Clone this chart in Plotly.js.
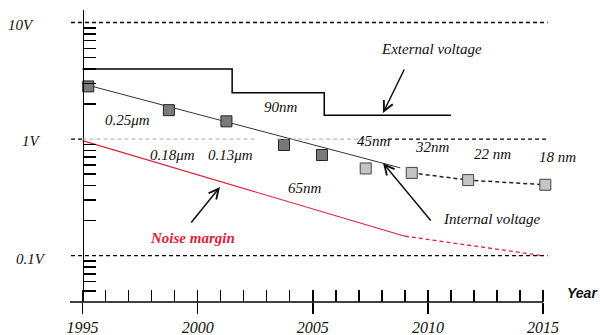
<!DOCTYPE html>
<html>
<head>
<meta charset="utf-8">
<script src="https://cdn.plot.ly/plotly-3.0.1.min.js"></script>
<style>html,body{margin:0;padding:0;background:#fff;}#chart{width:600px;height:335px;}</style>
</head>
<body>
<div id="chart"></div>
<script>
// ---- data ----
const extYears = [1995, 2001.5, 2005.5, 2011];
const extVolts = [4.0, 2.5, 1.6, 1.6];

const intYears = [1995.25, 1998.75, 2001.25, 2003.75, 2005.4];
const intVolts = [2.83, 1.77, 1.42, 0.89, 0.73];

const trendYears = [1995.25, 2008.8];
const trendVolts = [2.89, 0.567];

const projYears = [2007.3, 2009.3, 2011.75, 2015.1];
const projVolts = [0.56, 0.513, 0.445, 0.406];

const noiseYears = [1995, 2009, 2015];
const noiseVolts = [0.97, 0.147, 0.1];

const refLevels = [10, 1, 0.1];
const refLabels = ['10V', '1V', '0.1V'];

const majorYears = [1995, 2000, 2005, 2010, 2015];
const minorVolts = [0.05, 0.06, 0.07, 0.08, 0.09, 0.2, 0.3, 0.4, 0.5, 0.6, 0.7, 0.8, 0.9, 2, 3, 4, 5, 6, 7, 8, 9];

// ---- layout helpers ----
const W = 600, H = 335;
const M = {l: 70, r: 43, t: 10, b: 33};
const xRange = [1994.457, 2015.608];
const yRange = [-1.397, 1.107];
const pw = W - M.l - M.r, ph = H - M.t - M.b;
const px = x => (x - M.l) / pw;
const py = y => (H - M.b - y) / ph;
const xp = yr => (yr - xRange[0]) / (xRange[1] - xRange[0]);

const serif = 'Liberation Serif, Times New Roman, serif';
const red = '#e0203a';

const traces = [
  {x: extYears, y: extVolts, mode: 'lines', line: {color: '#000', width: 1.5, shape: 'hv'}, hoverinfo: 'skip'},
  {x: trendYears, y: trendVolts, mode: 'lines', line: {color: '#333', width: 1}, hoverinfo: 'skip'},
  {x: projYears.slice(1), y: projVolts.slice(1), mode: 'lines', line: {color: '#222', width: 1.5, dash: '4px,3px'}, hoverinfo: 'skip'},
  {x: noiseYears.slice(0, 2), y: noiseVolts.slice(0, 2), mode: 'lines', line: {color: red, width: 1.1}, hoverinfo: 'skip'},
  {x: noiseYears.slice(1), y: noiseVolts.slice(1), mode: 'lines', line: {color: red, width: 1.3, dash: '4px,3px'}, hoverinfo: 'skip'},
  {x: intYears, y: intVolts, mode: 'markers', cliponaxis: false,
   marker: {symbol: 'square', size: 11, color: '#7a7a7a', line: {color: '#222', width: 1}}, hoverinfo: 'skip'},
  {x: projYears, y: projVolts, mode: 'markers', cliponaxis: false,
   marker: {symbol: 'square', size: 11, color: '#c4c4c4', line: {color: '#444', width: 1}}, hoverinfo: 'skip'},
  {x: majorYears, y: majorYears.map(() => null), xaxis: 'x2', yaxis: 'y', mode: 'markers', hoverinfo: 'skip', showlegend: false}
];

const shapes = [];
refLevels.forEach((v, i) => {
  if (v === 1) {
    shapes.push({type: 'line', xref: 'x', yref: 'y', x0: 1994.5, x1: 1995, y0: v, y1: v, line: {color: '#000', width: 1.3, dash: '4px,3px'}});
    shapes.push({type: 'line', xref: 'x', yref: 'y', x0: 1995, x1: 2002.5, y0: v, y1: v, line: {color: '#aaa', width: 1, dash: '4px,3px'}});
    shapes.push({type: 'line', xref: 'x', yref: 'y', x0: 2003.45, x1: 2008.27, y0: v, y1: v, line: {color: '#aaa', width: 1, dash: '4px,3px'}});
    shapes.push({type: 'line', xref: 'x', yref: 'y', x0: 2008.27, x1: 2015.2, y0: v, y1: v, line: {color: '#000', width: 1.3, dash: '4px,3px'}});
  } else {
    shapes.push({type: 'line', xref: 'x', yref: 'y', x0: 1994.5, x1: 2015.2, y0: v, y1: v, line: {color: '#000', width: 1.3, dash: '4px,3px'}});
  }
});
// x axis line ending at 2015
shapes.push({type: 'line', xref: 'paper', yref: 'paper', x0: 0, x1: xp(2015), y0: 0, y1: 0, line: {color: '#000', width: 1.5}});

const tf = (size, color) => ({family: serif, size: size || 15, color: color || '#111', style: 'italic'});
const lab = (text, x, y, font) => ({text, xref: 'paper', yref: 'paper', x: px(x), y: py(y), xanchor: 'center', yanchor: 'middle', showarrow: false, font: font || tf()});
const arrow = (tx, ty, hx, hy) => ({text: '', xref: 'paper', yref: 'paper', x: px(hx), y: py(hy), axref: 'pixel', ayref: 'pixel', ax: tx - hx, ay: ty - hy,
  showarrow: true, arrowhead: 5, arrowsize: 1.3, arrowwidth: 1.5, arrowcolor: '#111'});

const annotations = [
  lab('External voltage', 431, 49),
  lab('90nm', 281, 107),
  lab('0.25μm', 127, 120),
  lab('0.18μm', 172, 155),
  lab('0.13μm', 230, 155),
  lab('45nm', 374, 141),
  lab('32nm', 432, 147),
  lab('22 nm', 492, 154),
  lab('18 nm', 557, 157),
  lab('65nm', 305, 188),
  lab('Internal voltage', 492, 219),
  lab('Noise margin', 192, 238, {family: serif, size: 15, color: red, style: 'italic', weight: 'bold'}),
  lab('Year', 582, 293, {family: 'Liberation Sans, Arial, sans-serif', size: 14, color: '#111', style: 'italic', weight: 'bold'}),
  lab(refLabels[0], 21, 25, tf(15)),
  lab(refLabels[1], 31, 141, tf(15)),
  lab(refLabels[2], 31, 259, tf(15)),
  arrow(405, 68, 383, 113),
  arrow(432, 222, 383, 163),
  arrow(190, 224, 220, 187)
];

const layout = {
  width: W, height: H,
  margin: M,
  paper_bgcolor: '#fff', plot_bgcolor: '#fff',
  showlegend: false,
  xaxis: {range: xRange, showgrid: false, zeroline: false, showline: false,
          ticks: 'inside', tick0: 1995, dtick: 1, ticklen: 12, tickwidth: 1.5, tickcolor: '#000', showticklabels: false},
  xaxis2: {range: xRange, overlaying: 'x', anchor: 'y', side: 'bottom', showgrid: false, zeroline: false, showline: false,
           ticks: 'outside', tickmode: 'array', tickvals: majorYears, ticktext: majorYears.map(String), ticklen: 11, tickwidth: 1.5, tickcolor: '#000',
           tickfont: tf(16)},
  yaxis: {type: 'log', range: yRange, anchor: 'free', position: xp(1995), showgrid: false, zeroline: false,
          showline: true, linecolor: '#000', linewidth: 1.5,
          ticks: 'inside', tickmode: 'array', tickvals: minorVolts, ticklen: 12, tickwidth: 1.5, tickcolor: '#000', showticklabels: false},
  shapes, annotations
};

Plotly.newPlot('chart', traces, layout, {staticPlot: true, displayModeBar: false});
</script>
</body>
</html>
